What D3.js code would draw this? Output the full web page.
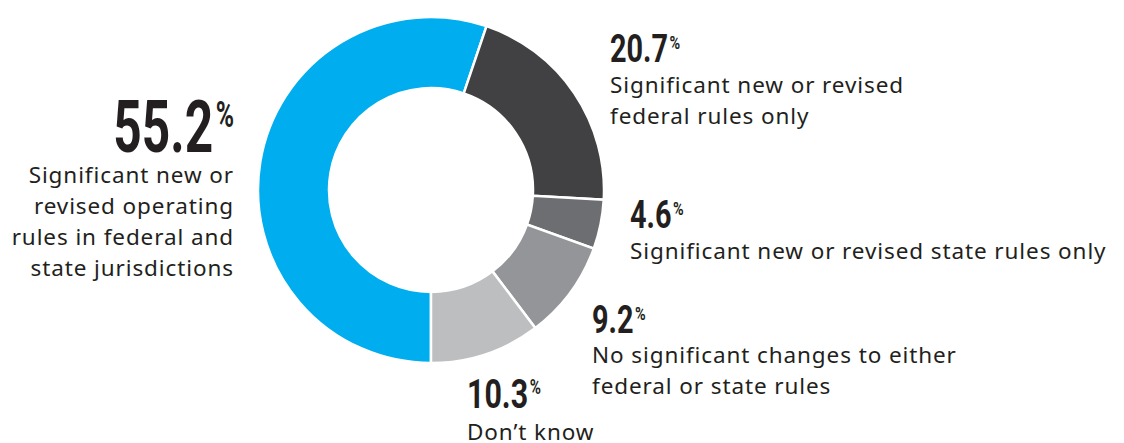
<!DOCTYPE html>
<meta charset="utf-8">
<script src="https://cdnjs.cloudflare.com/ajax/libs/d3/7.8.5/d3.min.js"></script>
<style>
  body { margin: 0; background: white; }
  .lbl { font-family: "Noto Sans", sans-serif; font-size: 22.5px; letter-spacing: 0.9px; fill: #231f20; }
  .num { font-family: Roboto, sans-serif; font-weight: bold; fill: #231f20; }
</style>
<body>
<div id="chart"></div>
<script>
  // data, clockwise from the bottom of the ring
  var values = [55.2, 20.7, 4.6, 9.2, 10.3];
  var labels = [
    ["Significant new or", "revised operating", "rules in federal and", "state jurisdictions"],
    ["Significant new or revised", "federal rules only"],
    ["Significant new or revised state rules only"],
    ["No significant changes to either", "federal or state rules"],
    ["Don\u2019t know"]
  ];
  var colors = ["#00aeef", "#414042", "#6d6e71", "#939598", "#bcbec0"];

  var WIDTH = 1124, HEIGHT = 443;
  var cx = 431, cy = 190, outerR = 173, innerR = 102;

  var svg = d3.select("#chart").append("svg")
    .attr("width", WIDTH)
    .attr("height", HEIGHT);

  var pie = d3.pie().sort(null).startAngle(Math.PI).endAngle(3 * Math.PI);
  var arc = d3.arc().innerRadius(innerR).outerRadius(outerR);

  svg.append("g")
    .attr("transform", "translate(" + cx + "," + cy + ")")
    .selectAll("path")
    .data(pie(values))
    .enter().append("path")
    .attr("d", arc)
    .attr("fill", function(d, i) { return colors[i]; })
    .attr("stroke", "white")
    .attr("stroke-width", 2.5);

  // where each label sits: x, baseline of the number, number size, squeeze, anchor
  var layout = [
    { x: 234, y: 152, size: 73, sx: 0.68, anchor: "end", lineY: 183 },
    { x: 610, y: 62, size: 38, sx: 0.76, anchor: "start", lineY: 93 },
    { x: 630, y: 228, size: 38, sx: 0.76, anchor: "start", lineY: 259 },
    { x: 592, y: 333, size: 38, sx: 0.76, anchor: "start", lineY: 363 },
    { x: 467, y: 408, size: 40, sx: 0.76, anchor: "start", lineY: 440 }
  ];

  values.forEach(function(v, i) {
    var L = layout[i];
    var g = svg.append("g")
      .attr("transform", "translate(" + L.x + "," + L.y + ") scale(" + L.sx + ",1)");
    var t = g.append("text")
      .attr("class", "num")
      .attr("text-anchor", L.anchor)
      .style("font-size", L.size + "px");
    t.append("tspan").text(v.toFixed(1));
    t.append("tspan")
      .style("font-size", (L.size * 0.5) + "px")
      .attr("dx", L.size * 0.05)
      .attr("dy", -L.size * 0.34)
      .text("%");

    labels[i].forEach(function(line, j) {
      svg.append("text")
        .attr("class", "lbl")
        .attr("x", L.x)
        .attr("y", L.lineY + j * 31)
        .attr("text-anchor", L.anchor)
        .text(line);
    });
  });
</script>
</body>
